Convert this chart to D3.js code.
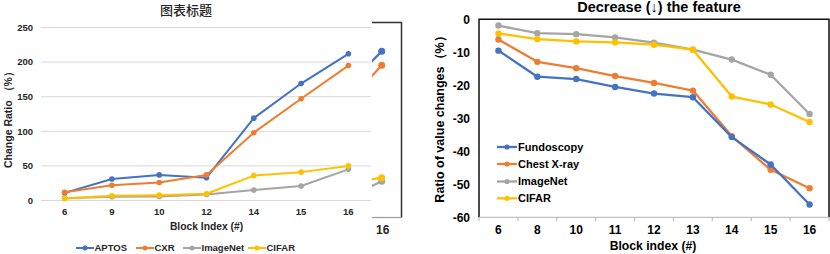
<!DOCTYPE html>
<html><head><meta charset="utf-8">
<script src="https://cdn.jsdelivr.net/npm/d3@7/dist/d3.min.js"></script>
<style>
html,body{margin:0;padding:0;background:#fff;}
svg{display:block;font-family:"Liberation Sans",Arial,sans-serif;}
</style></head>
<body><svg id="c" width="830" height="254"></svg>
<script>
// ---- Left chart data ----
const leftCats = ["6","9","10","12","14","15","16"];
const leftYTicks = [0,50,100,150,200,250];
const leftNames = ["APTOS","CXR","ImageNet","CIFAR"];
const aptos = [11, 31, 37, 33, 119, 169, 212];
const cxr = [12, 22, 26, 37, 98, 147, 195];
const imagenetL = [3.4, 5.3, 5.8, 8.7, 15, 21, 45];
const cifarL = [3, 6.8, 7.7, 9.7, 36, 41, 50];

// ---- Fragment (partially hidden chart) data ----
const fragCats = ["15","16"];
const fragBlue = [172, 215.5];
const fragOrange = [148, 195.4];
const fragGray = [7, 27.7];
const fragYellow = [25, 33];

// ---- Right chart data ----
const rightCats = ["6","8","10","11","12","13","14","15","16"];
const rightYTicks = [0,-10,-20,-30,-40,-50,-60];
const rightNames = ["Fundoscopy","Chest X-ray","ImageNet","CIFAR"];
const fundoscopy = [-9.5, -17.4, -18.1, -20.5, -22.5, -23.6, -35.7, -44.0, -56.1];
const chestXray = [-6.1, -12.9, -14.8, -17.2, -19.3, -21.6, -35.4, -45.6, -51.2];
const imagenetR = [-1.9, -4.2, -4.5, -5.5, -7.1, -9.2, -12.2, -16.8, -28.7];
const cifarR = [-4.3, -6.0, -6.7, -7.0, -7.7, -9.2, -23.4, -25.8, -31.1];

const colors = ["#4472C4","#ED7D31","#A5A5A5","#FFC000"];
const txt = "#262626";
const svg = d3.select("#c");

// ================= LEFT CHART =================
const L = svg.append("g");
const lx = d3.scaleBand().domain(leftCats).range([41,372]);
const ly = d3.scaleLinear().domain([0,250]).range([200.5,27.5]);
const lcx = c => lx(c) + lx.bandwidth()/2;

L.append("text").attr("x",186).attr("y",15.4).attr("text-anchor","middle")
  .style("font-family","'Noto Sans CJK SC',sans-serif").style("font-size","13px").style("font-weight","500")
  .attr("fill",txt).text("图表标题");

L.selectAll("line.grid").data(leftYTicks).join("line")
  .attr("x1",41).attr("x2",371).attr("y1",d=>ly(d)).attr("y2",d=>ly(d))
  .attr("stroke","#d9d9d9").attr("stroke-width",1);
L.selectAll("text.yt").data(leftYTicks).join("text")
  .attr("x",33).attr("y",d=>ly(d)).attr("dy","0.35em").attr("text-anchor","end")
  .style("font-size","9.5px").style("font-weight","bold").attr("fill",txt).text(d=>d);
L.selectAll("text.xt").data(leftCats).join("text")
  .attr("x",d=>lcx(d)).attr("y",212).attr("dy","0.35em").attr("text-anchor","middle")
  .style("font-size","9.5px").style("font-weight","bold").attr("fill",txt).text(d=>d);
L.append("text").attr("x",206.5).attr("y",226).attr("dy","0.35em").attr("text-anchor","middle")
  .style("font-size","10.3px").style("font-weight","bold").attr("fill",txt).text("Block Index (#)");
L.append("text").attr("transform","translate(8.5,117) rotate(-90)").attr("dy","0.35em").attr("text-anchor","middle")
  .style("font-size","10.5px").style("font-weight","bold").attr("fill",txt).text("Change Ratio （%）");

const leftSeries = [aptos,cxr,imagenetL,cifarL];
const lline = d3.line().x((d,i)=>lcx(leftCats[i])).y(d=>ly(d));
leftSeries.forEach((s,k)=>{
  L.append("path").datum(s).attr("d",lline).attr("fill","none")
    .attr("stroke",colors[k]).attr("stroke-width",2).attr("stroke-linejoin","round");
  L.selectAll(null).data(s).join("circle")
    .attr("cx",(d,i)=>lcx(leftCats[i])).attr("cy",d=>ly(d)).attr("r",2.8).attr("fill",colors[k]);
});

// legend bottom
const legX = [76,136,183,248];
leftNames.forEach((n,k)=>{
  const g = L.append("g");
  g.append("line").attr("x1",legX[k]).attr("x2",legX[k]+18).attr("y1",248).attr("y2",248)
    .attr("stroke",colors[k]).attr("stroke-width",2);
  g.append("circle").attr("cx",legX[k]+9).attr("cy",248).attr("r",2.5).attr("fill",colors[k]);
  g.append("text").attr("x",legX[k]+18.5).attr("y",248).attr("dy","0.35em")
    .style("font-size","9.5px").style("font-weight","bold").attr("fill",txt).text(n);
});

// ================= FRAGMENT =================
const F = svg.append("g");
F.append("clipPath").attr("id","fclip").append("rect").attr("x",372).attr("y",0).attr("width",30).attr("height",254);
const fx = d3.scalePoint().domain(fragCats).range([351.7,381.7]);
const fg = F.append("g").attr("clip-path","url(#fclip)");
[fragBlue,fragOrange,fragGray,fragYellow].forEach((s,k)=>{
  const fl = d3.line().x((d,i)=>fx(fragCats[i])).y(d=>ly(d));
  fg.append("path").datum(s).attr("d",fl).attr("fill","none").attr("stroke",colors[k]).attr("stroke-width",2.2);
  fg.append("circle").attr("cx",fx(fragCats[1])).attr("cy",ly(s[1])).attr("r",3.5).attr("fill",colors[k]);
});
F.append("path").attr("d","M372,22.5H401.5V217.5").attr("fill","none").attr("stroke","#333").attr("stroke-width",1.5);
F.append("line").attr("x1",372).attr("x2",401.5).attr("y1",217.5).attr("y2",217.5).attr("stroke","#999").attr("stroke-width",1.2);
F.append("text").attr("x",fx("16")+1).attr("y",230).attr("dy","0.35em").attr("text-anchor","middle")
  .style("font-size","12px").style("font-weight","bold").attr("fill",txt).text("16");

// ================= RIGHT CHART =================
const R = svg.append("g");
const rx = d3.scaleBand().domain(rightCats).range([479,829]);
const ry = d3.scaleLinear().domain([-60,0]).range([217.3,19.3]);
const rcx = c => rx(c) + rx.bandwidth()/2;

R.append("text").attr("x",659).attr("y",11.5).attr("text-anchor","middle")
  .style("font-size","14.5px").style("font-weight","bold").attr("fill","#000").text("Decrease (↓) the feature");

// frame
R.append("path").attr("d",`M${rx.range()[0]},${ry(-60)}V${ry(0)}H${rx.range()[1]}V${ry(-60)}`)
  .attr("fill","none").attr("stroke","#111").attr("stroke-width",1.5);
R.append("line").attr("x1",479).attr("x2",829).attr("y1",ry(-60)).attr("y2",ry(-60)).attr("stroke","#bfbfbf").attr("stroke-width",1.2);
const bounds = rightCats.map(c=>rx(c)).concat([rx.range()[1]]);
R.selectAll("line.tk").data(bounds).join("line")
  .attr("x1",d=>d).attr("x2",d=>d).attr("y1",ry(-60)).attr("y2",ry(-60)+4)
  .attr("stroke","#bfbfbf").attr("stroke-width",1.2);

R.selectAll("text.yt").data(rightYTicks).join("text")
  .attr("x",470).attr("y",d=>ry(d)).attr("dy","0.35em").attr("text-anchor","end")
  .style("font-size","12px").style("font-weight","bold").attr("fill","#000").text(d=>d);
R.selectAll("text.xt").data(rightCats).join("text")
  .attr("x",d=>rcx(d)).attr("y",230).attr("dy","0.35em").attr("text-anchor","middle")
  .style("font-size","12px").style("font-weight","bold").attr("fill","#000").text(d=>d);
R.append("text").attr("x",653).attr("y",245.5).attr("dy","0.35em").attr("text-anchor","middle")
  .style("font-size","12.2px").style("font-weight","bold").attr("fill","#000").text("Block index (#)");
R.append("text").attr("transform","translate(440,116) rotate(-90)").attr("dy","0.35em").attr("text-anchor","middle")
  .style("font-size","12.5px").style("font-weight","bold").attr("fill","#000").text("Ratio of value changes（%）");

const rightSeries = [fundoscopy,chestXray,imagenetR,cifarR];
const rline = d3.line().x((d,i)=>rcx(rightCats[i])).y(d=>ry(d));
[2,3,1,0].forEach(k=>{
  const s = rightSeries[k];
  R.append("path").datum(s).attr("d",rline).attr("fill","none")
    .attr("stroke",colors[k]).attr("stroke-width",2.3).attr("stroke-linejoin","round");
  R.selectAll(null).data(s).join("circle")
    .attr("cx",(d,i)=>rcx(rightCats[i])).attr("cy",d=>ry(d)).attr("r",3.2).attr("fill",colors[k]);
});

const rlegY = [147,164,181.5,198.3];
rightNames.forEach((n,k)=>{
  R.append("line").attr("x1",497).attr("x2",517).attr("y1",rlegY[k]).attr("y2",rlegY[k])
    .attr("stroke",colors[k]).attr("stroke-width",2.3);
  R.append("circle").attr("cx",507).attr("cy",rlegY[k]).attr("r",2.6).attr("fill",colors[k]);
  R.append("text").attr("x",518).attr("y",rlegY[k]).attr("dy","0.35em")
    .style("font-size","11px").style("font-weight","bold").attr("fill","#000").text(n);
});
</script></body></html>
